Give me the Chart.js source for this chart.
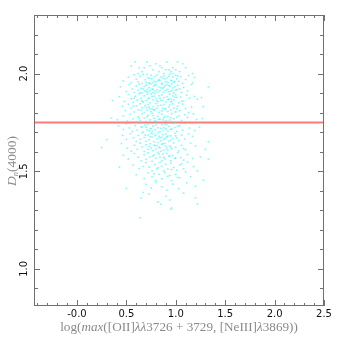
<!DOCTYPE html>
<html><head><meta charset="utf-8">
<script src="https://cdn.jsdelivr.net/npm/chart.js@4/dist/chart.umd.min.js"></script>
<style>html,body{margin:0;padding:0;background:#fff;overflow:hidden}#wrap{width:341px;height:341px;position:relative}</style>
</head><body><div id="wrap"><canvas id="c"></canvas></div>
<script>
const xTicks = [0.0, 0.5, 1.0, 1.5, 2.0, 2.5];
const xTickLabels = ['-0.0', '0.5', '1.0', '1.5', '2.0', '2.5'];
const yTicks = [1.0, 1.5, 2.0];
const yTickLabels = ['1.0', '1.5', '2.0'];
const xRange = [-0.435, 2.5];
const yRange = [0.81, 2.30];
const dn4000Cut = 1.75;

const logLineFlux = [
0.55,0.59,0.63,0.66,0.71,0.74,0.77,0.80,0.83,0.86,0.88,0.91,0.93,0.95,0.97,1.00,1.02,1.04,1.07,1.10,1.17,0.68,0.90,0.84,0.62,0.97,
0.47,0.52,0.55,0.58,0.60,0.62,0.64,0.66,0.67,0.69,0.70,0.72,0.73,0.75,0.76,0.78,0.79,0.80,0.81,0.83,0.84,0.85,0.86,0.88,0.89,0.90,0.91,0.92,0.94,0.95,0.96,0.97,0.98,1.00,1.01,1.03,1.05,1.07,1.10,1.13,1.19,0.74,0.82,0.87,0.93,0.99,0.71,0.77,1.02,1.17,
0.44,0.50,0.53,0.56,0.58,0.60,0.62,0.63,0.65,0.66,0.68,0.69,0.70,0.71,0.72,0.73,0.74,0.75,0.76,0.77,0.78,0.79,0.80,0.81,0.82,0.83,0.84,0.86,0.87,0.88,0.89,0.90,0.91,0.92,0.93,0.94,0.95,0.96,0.97,0.98,0.99,1.00,1.02,1.04,1.06,1.08,1.12,1.16,1.33,0.73,0.77,0.85,0.93,0.96,0.67,0.70,0.79,0.88,1.01,0.64,
0.36,0.43,0.48,0.52,0.55,0.57,0.59,0.61,0.63,0.65,0.67,0.68,0.70,0.71,0.73,0.74,0.76,0.77,0.79,0.80,0.82,0.83,0.85,0.86,0.88,0.90,0.91,0.93,0.94,0.95,0.96,0.97,0.98,1.00,1.01,1.03,1.05,1.08,1.11,1.14,1.19,1.22,1.26,0.72,0.78,0.84,0.92,0.99,0.66,0.75,0.87,1.06,0.58,0.81,0.95,
0.46,0.49,0.52,0.55,0.58,0.60,0.62,0.64,0.66,0.68,0.69,0.71,0.72,0.74,0.75,0.77,0.78,0.80,0.81,0.83,0.85,0.86,0.88,0.90,0.92,0.93,0.95,0.97,0.98,1.00,1.02,1.04,1.07,1.10,1.13,1.16,1.28,0.70,0.76,0.82,0.89,0.94,0.65,0.73,0.79,0.87,1.01,0.57,
0.35,0.41,0.47,0.51,0.54,0.57,0.60,0.62,0.64,0.66,0.68,0.70,0.72,0.74,0.76,0.78,0.80,0.82,0.84,0.86,0.88,0.90,0.92,0.94,0.96,0.98,1.00,1.03,1.06,1.09,1.12,1.18,1.21,1.27,0.71,0.77,0.83,0.89,0.95,0.63,0.79,0.87,1.01,
0.42,0.47,0.50,0.53,0.56,0.59,0.61,0.63,0.65,0.67,0.69,0.71,0.72,0.74,0.76,0.77,0.79,0.81,0.82,0.84,0.86,0.87,0.89,0.90,0.92,0.93,0.95,0.97,0.99,1.01,1.04,1.07,1.10,1.14,1.19,1.24,0.70,0.75,0.80,0.85,0.91,0.96,0.66,0.73,0.88,1.02,
0.30,0.46,0.50,0.54,0.57,0.60,0.62,0.64,0.66,0.68,0.70,0.72,0.73,0.75,0.76,0.78,0.79,0.81,0.82,0.84,0.85,0.87,0.88,0.90,0.91,0.93,0.95,0.97,0.99,1.01,1.03,1.06,1.09,1.13,1.17,1.33,0.74,0.80,0.86,0.92,0.77,0.83,0.89,0.69,0.95,1.00,
0.25,0.45,0.51,0.55,0.58,0.61,0.64,0.66,0.68,0.70,0.72,0.74,0.75,0.77,0.79,0.80,0.82,0.83,0.85,0.86,0.88,0.89,0.91,0.92,0.94,0.96,0.98,1.00,1.03,1.06,1.10,1.15,1.30,0.73,0.78,0.84,0.87,0.90,0.95,0.81,1.08,1.20,
0.47,0.52,0.58,0.62,0.65,0.68,0.70,0.72,0.74,0.76,0.78,0.80,0.82,0.84,0.86,0.87,0.89,0.91,0.93,0.95,0.97,0.99,1.02,1.05,1.08,1.12,1.17,1.25,1.33,0.77,0.83,0.88,0.94,1.00,
0.43,0.57,0.63,0.70,0.73,0.76,0.79,0.81,0.84,0.86,0.88,0.90,0.92,0.95,0.98,1.01,1.04,1.08,1.12,1.18,1.22,0.67,0.82,0.96,1.06,
0.60,0.68,0.72,0.76,0.80,0.83,0.86,0.89,0.92,0.96,1.00,1.04,1.10,1.15,1.28,0.78,0.94,1.02,
0.50,0.70,0.75,0.80,0.86,0.91,0.97,1.03,1.11,1.20,
0.65,0.67,0.73,0.82,0.85,0.90,0.94,0.96,1.08,1.20,1.22,0.95,
0.64
];

const dn4000 = [
2.04,2.06,2.03,2.01,2.06,2.04,2.02,2.05,2.01,2.03,2.00,2.06,2.02,2.01,2.03,2.02,2.06,2.01,2.05,2.03,2.00,2.03,2.02,2.04,2.00,2.00,
1.962,1.981,1.953,1.994,1.971,1.958,1.987,1.949,1.996,1.968,1.955,1.978,1.952,1.991,1.974,1.961,1.985,1.957,1.993,1.969,1.964,1.983,1.951,1.989,1.972,1.959,1.979,1.954,1.997,1.966,1.963,1.982,1.956,1.992,1.973,1.960,1.984,1.950,1.970,1.990,1.980,1.975,1.965,1.977,1.986,1.959,1.995,1.952,1.988,1.953,
1.932,1.908,1.944,1.921,1.903,1.937,1.914,1.946,1.925,1.901,1.934,1.911,1.941,1.919,1.905,1.928,1.913,1.948,1.923,1.902,1.936,1.909,1.942,1.917,1.906,1.931,1.912,1.945,1.924,1.904,1.938,1.915,1.943,1.920,1.907,1.935,1.910,1.947,1.926,1.900,1.933,1.916,1.940,1.922,1.903,1.929,1.911,1.944,1.932,1.949,1.918,1.927,1.939,1.913,1.921,1.908,1.943,1.930,1.918,1.902,
1.862,1.881,1.858,1.893,1.871,1.852,1.884,1.864,1.897,1.873,1.854,1.886,1.861,1.894,1.875,1.851,1.883,1.866,1.898,1.872,1.856,1.887,1.863,1.891,1.876,1.853,1.882,1.868,1.895,1.870,1.857,1.885,1.865,1.892,1.878,1.850,1.880,1.860,1.889,1.874,1.883,1.869,1.877,1.871,1.884,1.873,1.867,1.879,1.859,1.896,1.862,1.858,1.874,1.861,1.855,
1.832,1.811,1.843,1.822,1.803,1.834,1.814,1.846,1.825,1.801,1.836,1.812,1.841,1.819,1.805,1.831,1.813,1.847,1.823,1.802,1.838,1.809,1.842,1.817,1.806,1.829,1.815,1.845,1.824,1.804,1.833,1.810,1.844,1.821,1.800,1.828,1.831,1.826,1.818,1.835,1.821,1.839,1.812,1.827,1.816,1.822,1.819,1.833,
1.772,1.764,1.783,1.757,1.791,1.768,1.752,1.779,1.761,1.794,1.773,1.755,1.786,1.763,1.797,1.771,1.753,1.782,1.766,1.792,1.774,1.758,1.781,1.762,1.795,1.769,1.751,1.784,1.760,1.789,1.776,1.793,1.765,1.770,1.778,1.785,1.767,1.780,1.774,1.771,1.759,1.763,1.777,
1.732,1.714,1.743,1.722,1.703,1.734,1.711,1.746,1.725,1.701,1.736,1.712,1.741,1.719,1.705,1.731,1.713,1.747,1.723,1.702,1.738,1.709,1.742,1.717,1.706,1.729,1.715,1.745,1.724,1.704,1.733,1.710,1.744,1.721,1.708,1.727,1.726,1.718,1.735,1.720,1.739,1.716,1.728,1.707,1.722,1.730,
1.662,1.684,1.663,1.692,1.671,1.652,1.683,1.664,1.696,1.673,1.654,1.686,1.661,1.694,1.675,1.651,1.682,1.666,1.698,1.672,1.656,1.687,1.663,1.691,1.676,1.653,1.681,1.668,1.695,1.670,1.657,1.685,1.665,1.692,1.678,1.650,1.677,1.688,1.674,1.680,1.693,1.679,1.669,1.684,1.660,1.681,
1.621,1.642,1.618,1.603,1.633,1.612,1.644,1.624,1.601,1.636,1.611,1.641,1.619,1.605,1.631,1.613,1.647,1.623,1.602,1.638,1.609,1.642,1.617,1.606,1.629,1.615,1.645,1.624,1.604,1.633,1.610,1.644,1.612,1.627,1.634,1.620,1.640,1.628,1.622,1.632,1.616,1.630,
1.582,1.563,1.591,1.572,1.552,1.584,1.561,1.594,1.573,1.551,1.583,1.566,1.597,1.572,1.554,1.587,1.563,1.591,1.576,1.553,1.581,1.568,1.595,1.570,1.557,1.585,1.565,1.574,1.562,1.578,1.589,1.571,1.580,1.567,
1.522,1.531,1.513,1.544,1.521,1.503,1.534,1.512,1.546,1.525,1.501,1.536,1.511,1.541,1.519,1.505,1.531,1.513,1.547,1.523,1.502,1.524,1.518,1.509,1.538,
1.482,1.463,1.491,1.472,1.452,1.484,1.461,1.494,1.473,1.451,1.483,1.466,1.497,1.472,1.454,1.487,1.478,1.469,
1.412,1.433,1.414,1.442,1.421,1.403,1.434,1.411,1.441,1.423,
1.362,1.391,1.383,1.342,1.331,1.372,1.353,1.312,1.388,1.364,1.333,1.305,
1.262
];

const xTitleParts = [['log(',false],['max',true],['([OII]',false],['\u03bb\u03bb',true],['3726 + 3729, [NeIII]',false],['\u03bb',true],['3869))',false]];

function drawParts(ctx, parts, cx, cy, size, family) {
  let w = 0;
  const widths = parts.map(p => { ctx.font = (p[1] ? 'italic ' : '') + (p[2] || size) + 'px ' + family; const m = ctx.measureText(p[0]).width; w += m; return m; });
  let x = cx - w / 2;
  ctx.textAlign = 'left';
  parts.forEach((p, i) => { ctx.font = (p[1] ? 'italic ' : '') + (p[2] || size) + 'px ' + family; ctx.fillText(p[0], x, cy + (p[3] || 0)); x += widths[i]; });
  return w;
}

const axisPlugin = {
  id: 'axesFrame',
  afterDatasetsDraw(chart) {
    const {ctx, chartArea: a, scales: {x, y}} = chart;
    ctx.save();
    ctx.strokeStyle = '#707070';
    ctx.lineWidth = 1;
    const L = Math.round(a.left), R = Math.round(a.right), T = Math.round(a.top), B = Math.round(a.bottom);
    ctx.strokeRect(L + 0.5, T + 0.5, R - L - 1, B - T - 1);
    ctx.beginPath();
    for (let i = -4; i <= 25; i++) {
      const px = Math.round(x.getPixelForValue(i / 10)) + 0.5;
      const len = (i % 5 === 0) ? 6 : 3;
      ctx.moveTo(px, B); ctx.lineTo(px, B - len);
      ctx.moveTo(px, T); ctx.lineTo(px, T + len);
    }
    for (let i = 9; i <= 23; i++) {
      const py = Math.round(y.getPixelForValue(i / 10)) + 0.5;
      const len = (i % 5 === 0) ? 6 : 4;
      ctx.moveTo(L, py); ctx.lineTo(L + len, py);
      ctx.moveTo(R, py); ctx.lineTo(R - len, py);
    }
    ctx.stroke();
    ctx.fillStyle = '#111';
    ctx.font = '10px "DejaVu Sans"';
    ctx.textAlign = 'center';
    ctx.textBaseline = 'middle';
    xTicks.forEach((v, i) => ctx.fillText(xTickLabels[i], x.getPixelForValue(v), B + 8));
    yTicks.forEach((v, i) => {
      ctx.save();
      ctx.translate(L - 10, y.getPixelForValue(v));
      ctx.rotate(-Math.PI / 2);
      ctx.textAlign = 'center';
      ctx.fillText(yTickLabels[i], 0, 0);
      ctx.restore();
    });
    ctx.fillStyle = '#8a8a8a';
    ctx.textBaseline = 'alphabetic';
    drawParts(ctx, xTitleParts, 179, 331, 13.2, '"Liberation Serif"');
    ctx.save();
    ctx.translate(16, 161);
    ctx.rotate(-Math.PI / 2);
    drawParts(ctx, [['D', true, 13.5], ['n', true, 8.5, 2], ['(4000)', false, 13.5]], 0, 0, 13.5, '"Liberation Serif"');
    ctx.restore();
    ctx.restore();
  }
};

new Chart(document.getElementById('c'), {
  type: 'scatter',
  data: {
    datasets: [
      {type: 'line', data: [{x: xRange[0], y: dn4000Cut}, {x: xRange[1], y: dn4000Cut}], borderColor: '#ff7b7b', borderWidth: 2, pointRadius: 0, order: 2},
      {data: logLineFlux.map((v, i) => ({x: v, y: dn4000[i]})), backgroundColor: 'rgba(0,255,255,0.55)', pointStyle: 'rect', pointRadius: 1.1, borderWidth: 0, order: 1}
    ]
  },
  options: {
    animation: false, responsive: true, maintainAspectRatio: false, events: [],
    layout: {padding: {left: 34, right: 17, top: 15, bottom: 35}},
    plugins: {legend: {display: false}, tooltip: {enabled: false}},
    scales: {
      x: {type: 'linear', min: xRange[0], max: xRange[1], display: false},
      y: {type: 'linear', min: yRange[0], max: yRange[1], display: false}
    }
  },
  plugins: [axisPlugin]
});
</script>
</body></html>
